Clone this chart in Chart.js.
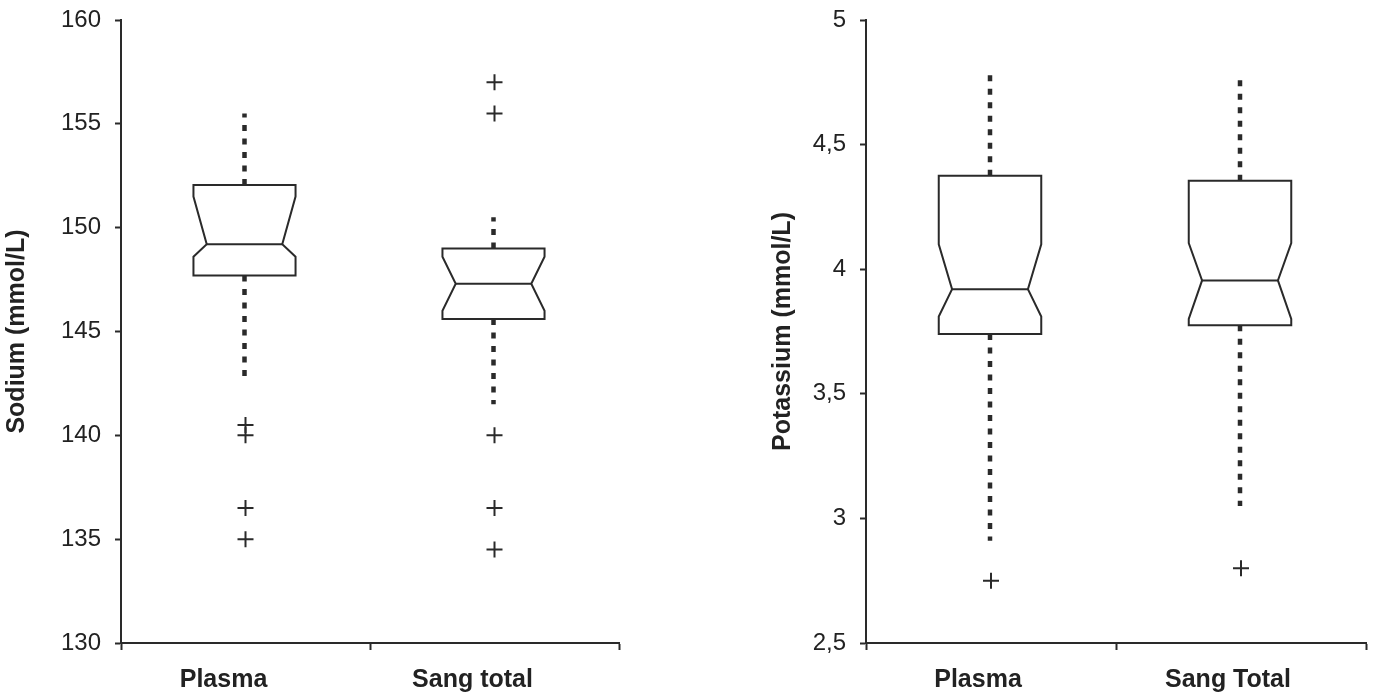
<!DOCTYPE html>
<html>
<head>
<meta charset="utf-8">
<script src="https://cdn.jsdelivr.net/npm/chart.js@4"></script>
<style>
  html, body { margin: 0; padding: 0; background: #fff; }
  #wrap { position: relative; width: 1376px; height: 695px; }
  .box { position: absolute; top: 0; height: 695px; }
</style>
</head>
<body>
<div id="wrap">
  <div class="box" style="left:0;width:680px"><canvas id="sodiumChart"></canvas></div>
  <div class="box" style="left:766px;width:610px"><canvas id="potassiumChart"></canvas></div>
</div>
<script>
// ===== Sodium data =====
const naCategories = ["Plasma", "Sang total"];
const naQ1 = [147.7, 145.6];
const naMedian = [149.2, 147.3];
const naQ3 = [152.05, 149.0];
const naNotchLow = [148.6, 146.0];
const naNotchHigh = [151.5, 148.6];
const naWhiskerLow = [142.5, 141.5];
const naWhiskerHigh = [155.5, 150.5];
const naOutliers = [
  [140.5, 140, 136.5, 135],
  [157, 155.5, 140, 136.5, 134.5]
];
const naTicks = ["130", "135", "140", "145", "150", "155", "160"];

// ===== Potassium data =====
const kCategories = ["Plasma", "Sang Total"];
const kQ1 = [3.74, 3.775];
const kMedian = [3.92, 3.955];
const kQ3 = [4.375, 4.355];
const kNotchLow = [3.81, 3.80];
const kNotchHigh = [4.10, 4.105];
const kWhiskerLow = [2.91, 3.05];
const kWhiskerHigh = [4.79, 4.77];
const kOutliers = [
  [2.75],
  [2.8]
];
const kTicks = ["2,5", "3", "3,5", "4", "4,5", "5"];

const ink = "#2a2a2a";
const fontFamily = "'Liberation Sans', Arial, sans-serif";

// draws notched boxes + dotted whiskers through the chart scales
const notchBoxPlugin = {
  id: "notchBox",
  beforeDatasetsDraw(chart, args, opts) {
    const { ctx } = chart;
    const x = chart.scales.x, y = chart.scales.y;
    const step = x.getPixelForValue(1) - x.getPixelForValue(0);
    const half = step * opts.boxWidth / 2;
    const ind = half * 2 * opts.notch;
    const py = v => y.getPixelForValue(v);

    opts.boxes.forEach((b, i) => {
      const cx = x.getPixelForValue(i) - opts.shift;
      const l = cx - half, r = cx + half;
      ctx.save();
      ctx.strokeStyle = ink;

      // whiskers
      ctx.lineWidth = 4.5;
      ctx.setLineDash([6, 7.5]);
      ctx.beginPath();
      ctx.moveTo(cx, py(b.q3)); ctx.lineTo(cx, py(b.hi));
      ctx.stroke();
      ctx.beginPath();
      ctx.moveTo(cx, py(b.q1)); ctx.lineTo(cx, py(b.lo));
      ctx.stroke();

      // notched box
      ctx.setLineDash([]);
      ctx.lineWidth = 2;
      ctx.lineJoin = "miter";
      ctx.fillStyle = "#fff";
      ctx.beginPath();
      ctx.moveTo(l, py(b.q3));
      ctx.lineTo(l, py(b.nHi));
      ctx.lineTo(l + ind, py(b.med));
      ctx.lineTo(l, py(b.nLo));
      ctx.lineTo(l, py(b.q1));
      ctx.lineTo(r, py(b.q1));
      ctx.lineTo(r, py(b.nLo));
      ctx.lineTo(r - ind, py(b.med));
      ctx.lineTo(r, py(b.nHi));
      ctx.lineTo(r, py(b.q3));
      ctx.closePath();
      ctx.fill();
      ctx.stroke();

      // median
      ctx.beginPath();
      ctx.moveTo(l + ind, py(b.med));
      ctx.lineTo(r - ind, py(b.med));
      ctx.stroke();
      ctx.restore();
    });
  }
};

function buildBoxes(q1, med, q3, nLo, nHi, lo, hi) {
  return q1.map((_, i) => ({
    q1: q1[i], med: med[i], q3: q3[i], nLo: nLo[i], nHi: nHi[i], lo: lo[i], hi: hi[i]
  }));
}

function buildOutliers(categories, outliers) {
  const pts = [];
  outliers.forEach((list, i) => list.forEach(v => pts.push({ x: categories[i], y: v })));
  return pts;
}

function makeChart(id, cfg) {
  return new Chart(document.getElementById(id), {
    type: "line",
    data: {
      labels: cfg.categories,
      datasets: [{
        data: buildOutliers(cfg.categories, cfg.outliers),
        showLine: false,
        pointStyle: "cross",
        pointRadius: 8,
        pointBorderWidth: 2,
        borderColor: ink,
        backgroundColor: ink,
      }],
    },
    options: {
      responsive: true,
      maintainAspectRatio: false,
      animation: false,
      layout: { padding: { top: 20, right: cfg.padRight, bottom: 0, left: 0 } },
      plugins: {
        legend: { display: false },
        tooltip: { enabled: false },
        notchBox: { boxes: cfg.boxes, boxWidth: 0.41, notch: 0.13, shift: 1 },
      },
      scales: {
        x: {
          type: "category",
          offset: true,
          grid: { offset: true, drawOnChartArea: false, tickLength: 7, tickWidth: 2, tickColor: ink },
          border: { color: ink, width: 2 },
          ticks: {
            color: "#222",
            padding: 15,
            maxRotation: 0,
            labelOffset: cfg.labelShift,
            font: { family: fontFamily, size: 25, weight: "bold" },
          },
          afterFit: s => { s.height = 52; },
        },
        y: {
          min: cfg.min,
          max: cfg.max,
          grid: { drawOnChartArea: false, tickLength: 6, tickWidth: 2, tickColor: ink },
          border: { color: ink, width: 2 },
          ticks: {
            stepSize: cfg.step,
            color: "#222",
            padding: 14,
            font: { family: fontFamily, size: 24 },
            callback: (v, i) => cfg.ticks[i],
          },
          title: {
            display: true,
            text: cfg.title,
            color: "#222",
            padding: { top: 2, bottom: 0 },
            font: { family: fontFamily, size: 25, weight: "bold" },
          },
          afterFit: s => {
            s.width = cfg.axisWidth;
            s.paddingTop = 0;
            s.paddingBottom = 0;
          },
        },
      },
    },
    plugins: [notchBoxPlugin],
  });
}

makeChart("sodiumChart", {
  categories: naCategories,
  outliers: naOutliers,
  boxes: buildBoxes(naQ1, naMedian, naQ3, naNotchLow, naNotchHigh, naWhiskerLow, naWhiskerHigh),
  min: 130, max: 160, step: 5,
  ticks: naTicks,
  title: "Sodium (mmol/L)",
  axisWidth: 121,
  padRight: 61,
  labelShift: -22,
});

makeChart("potassiumChart", {
  categories: kCategories,
  outliers: kOutliers,
  boxes: buildBoxes(kQ1, kMedian, kQ3, kNotchLow, kNotchHigh, kWhiskerLow, kWhiskerHigh),
  min: 2.5, max: 5, step: 0.5,
  ticks: kTicks,
  title: "Potassium (mmol/L)",
  axisWidth: 100,
  padRight: 10,
  labelShift: -13,
});
</script>
</body>
</html>
